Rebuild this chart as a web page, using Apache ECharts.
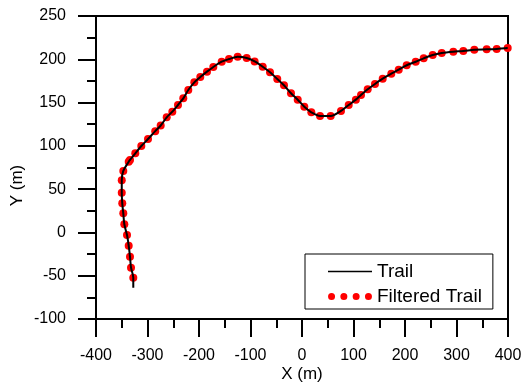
<!DOCTYPE html>
<html>
<head>
<meta charset="utf-8">
<script src="https://cdn.jsdelivr.net/npm/echarts@6/dist/echarts.min.js"></script>
<style>
  html, body { margin: 0; padding: 0; background: #fff; }
  #chart { width: 530px; height: 383px; }
</style>
</head>
<body>
<div id="chart"></div>
<script>
// filtered trail samples (m)
const filteredX = [-327.6, -332, -334, -336.5, -339.8, -345, -347, -349, -350, -350,
  -347, -336.5, -334, -323.7, -312, -299, -285, -274.4, -262.7, -251.8,
  -240.8, -230.5, -220.8, -209.1, -197.5, -184.5, -172.2, -155.9, -141.7, -124.9,
  -107.4, -92, -76.3, -62.1, -48, -35, -21.4, -8.3, 4.5, 18.1,
  35, 55.7, 75.7, 90.7, 104.6, 114.6, 127.6, 141.7, 156.7, 173.4,
  187.8, 203.3, 220.8, 236.3, 253.8, 271.3, 293.8, 313.2, 334.6, 358.6,
  378.1, 399.4];
const filteredY = [-52.3, -40.7, -28, -15.3, -3, 9.4, 22.1, 33.6, 45.9, 60.2,
  71, 81.7, 83.7, 91.4, 99.8, 107.9, 117, 123.5, 133, 139.5,
  147.2, 154.9, 164.5, 173.4, 179.5, 185.7, 191.1, 197.2, 200.3, 203,
  201.5, 197.5, 191.4, 185, 177.2, 170, 160.7, 153.3, 145.2, 138.8,
  134.5, 134.5, 140.3, 147.2, 153.4, 158.7, 165.3, 171.5, 177.6, 183.3,
  188, 193.1, 197.2, 201.1, 205, 207.3, 208.8, 209.6, 211.1, 211.5,
  211.9, 213];

// raw trail: starts a bit below the first filtered sample, ends at the right edge
const trailStart = [-327.6, -63.8];
const trailEnd = [400, 213];

const xTicks = { min: -400, max: 400, step: 100 };
const yTicks = { min: -100, max: 250, step: 50 };

const font = '"Liberation Sans", Arial, sans-serif';

const filteredData = filteredX.map((x, i) => [x, filteredY[i]]);
const trailData = [trailStart].concat(filteredData, [trailEnd]);

const dotsIcon = 'path://' + [0, 12.3, 24.6, 36.9].map(c =>
  `M${c},3.5a3.5,3.5 0 1,0 7,0a3.5,3.5 0 1,0 -7,0Z`).join(' ');
const lineIcon = 'path://M0,0M0,2.7H44V4.3H0ZM44,7';

const axisCommon = {
  axisLine: { onZero: false, lineStyle: { color: '#000', width: 2 } },
  axisTick: { show: true, inside: false, length: 18, lineStyle: { color: '#000', width: 2 } },
  minorTick: { show: true, splitNumber: 2, length: 9, lineStyle: { color: '#000', width: 2 } },
  splitLine: { show: false },
  axisLabel: { color: '#000', fontSize: 16, fontFamily: font, margin: 29 },
  nameTextStyle: { color: '#000', fontSize: 17, fontFamily: font },
  nameLocation: 'middle',
  nameMoveOverlap: false
};

const chart = echarts.init(document.getElementById('chart'), null, { renderer: 'canvas' });
chart.setOption({
  animation: false,
  backgroundColor: '#fff',
  grid: {
    left: 96, right: 22, top: 16, bottom: 64,
    outerBoundsMode: 'none', containLabel: false,
    show: true, borderColor: '#000', borderWidth: 2
  },
  xAxis: Object.assign({}, axisCommon, {
    type: 'value', name: 'X (m)', nameGap: 47,
    min: xTicks.min, max: xTicks.max, interval: xTicks.step
  }),
  yAxis: Object.assign({}, axisCommon, {
    type: 'value', name: 'Y (m)', nameGap: 70,
    min: yTicks.min, max: yTicks.max, interval: yTicks.step,
    axisLabel: Object.assign({}, axisCommon.axisLabel, { margin: 30 }),
    nameTextStyle: Object.assign({}, axisCommon.nameTextStyle, { padding: [0, 36, 0, 0] })
  }),
  legend: {
    orient: 'vertical',
    left: 305, top: 254,
    padding: [8, 11, 3, 23],
    itemGap: 6,
    itemWidth: 44, itemHeight: 7,
    borderColor: '#000', borderWidth: 1,
    backgroundColor: '#fff',
    textStyle: { color: '#000', fontSize: 19, fontFamily: font, lineHeight: 18 },
    data: [
      { name: 'Trail', icon: lineIcon, itemStyle: { color: '#000' } },
      { name: 'Filtered Trail', icon: dotsIcon, itemStyle: { color: '#ff0000' } }
    ]
  },
  series: [
    {
      name: 'Trail', type: 'line', data: trailData,
      showSymbol: false, symbol: 'none', smooth: 0.3,
      lineStyle: { color: '#000', width: 2 },
      itemStyle: { color: '#000' }
    },
    {
      name: 'Filtered Trail', type: 'scatter', data: filteredData,
      symbol: 'circle', symbolSize: 8,
      itemStyle: { color: '#ff0000', opacity: 1 }
    }
  ]
});
</script>
</body>
</html>
